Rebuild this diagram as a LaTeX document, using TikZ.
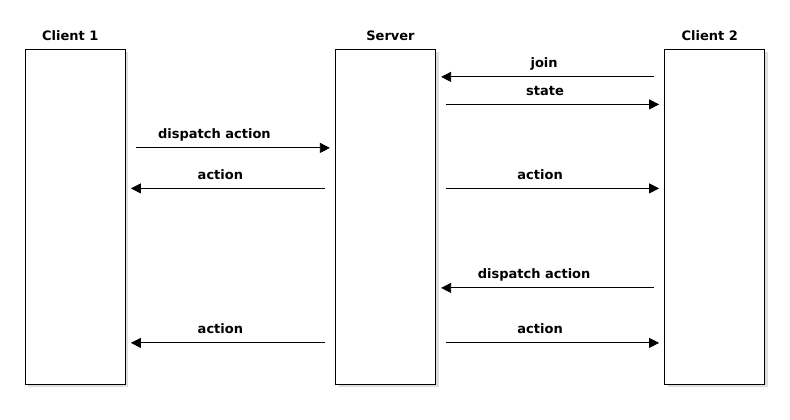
\documentclass[tikz,border=0pt]{standalone}
\usepackage{fontspec}
\setmainfont{DejaVu Sans}
\usetikzlibrary{positioning,shadows,arrows.meta}
\tikzstyle{lifeline} = [rectangle, draw, fill=white, line width=1.2pt, minimum width=100pt, minimum height=335pt, drop shadow={shadow xshift=3pt, shadow yshift=-3pt, fill=black!25}]
\tikzstyle{title} = [anchor=base, inner sep=0pt, font=\bfseries\fontsize{13}{15}\selectfont]
\tikzstyle{msg} = [-{Triangle[length=10pt,width=10pt]}, line width=0.8pt, shorten <=10pt, shorten >=5pt]
\tikzstyle{lbl} = [anchor=base, yshift=9pt, xshift=-10pt, inner sep=0pt, font=\bfseries\fontsize{13}{15}\selectfont]

\begin{document}
\begin{tikzpicture}[x=1pt,y=1pt]
  \useasboundingbox (0,0) rectangle (790,420);
  \node[lifeline] (C1) at (75.3,203) {};
  \node[lifeline, right=209pt of C1] (S) {};
  \node[lifeline, right=228pt of S] (C2) {};
  \node[title] (C1_t) at ([xshift=-5pt,yshift=8pt]C1.north) {Client 1};
  \node[title] (S_t) at ([xshift=5pt,yshift=8pt]S.north) {Server};
  \node[title] (C2_t) at ([xshift=-5pt,yshift=8pt]C2.north) {Client 2};

  \draw[msg] ([yshift=-28pt]C2.north west) -- node[lbl, xshift=4pt] {join} ([yshift=-28pt]S.north east);
  \draw[msg] ([yshift=-55.5pt]S.north east) -- node[lbl, xshift=5pt] {state} ([yshift=-55.5pt]C2.north west);
  \draw[msg] ([yshift=-99pt]C1.north east) -- node[lbl, xshift=-6pt] {dispatch action} ([yshift=-99pt]S.north west);
  \draw[msg] ([yshift=-139.5pt]S.north west) -- node[lbl] {action} ([yshift=-139.5pt]C1.north east);
  \draw[msg] ([yshift=-139.5pt]S.north east) -- node[lbl] {action} ([yshift=-139.5pt]C2.north west);
  \draw[msg] ([yshift=-239pt]C2.north west) -- node[lbl, xshift=-6pt] {dispatch action} ([yshift=-239pt]S.north east);
  \draw[msg] ([yshift=-294pt]S.north west) -- node[lbl] {action} ([yshift=-294pt]C1.north east);
  \draw[msg] ([yshift=-294pt]S.north east) -- node[lbl] {action} ([yshift=-294pt]C2.north west);
\end{tikzpicture}
\end{document}
